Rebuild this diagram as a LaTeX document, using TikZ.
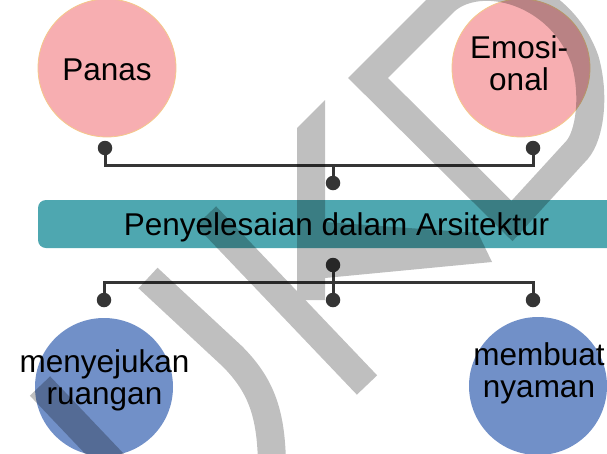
\documentclass[tikz,border=0pt]{standalone}
\usepackage{fontspec}
\setmainfont{Liberation Sans}
\definecolor{rosefill}{HTML}{F7AEB1}
\definecolor{roseline}{HTML}{F4C98A}
\definecolor{skyfill}{HTML}{7190C8}
\definecolor{tealbar}{HTML}{4EA7B0}
\definecolor{stem}{HTML}{353535}
\begin{document}
\begin{tikzpicture}[x=1pt,y=-1pt,
  ball/.style={circle,minimum size=138pt,inner sep=0pt},
  hot/.style={ball,fill=rosefill,draw=roseline,line width=0.8pt},
  cool/.style={ball,fill=skyfill},
  word/.style={font=\fontsize{31.5}{32}\selectfont,align=center,inner sep=0pt},
  stud/.style={circle,fill=stem,minimum size=14.5pt,inner sep=0pt},
  link/.style={draw=stem,line width=3pt},
  banner/.style={rounded corners=8pt,fill=tealbar,minimum width=597pt,minimum height=48pt,
    inner sep=0pt,text height=23pt,text depth=1pt,font=\fontsize{31.5}{32}\selectfont},
  inkband/.style={line width=28pt,line cap=butt,line join=miter}]
\useasboundingbox (0,0) rectangle (607,453);
% circles
\node[hot] (panas) at (107,68) {};
\node[hot] (emosi) at (521,68) {};
\node[cool] (sejuk) at (104,387) {};
\node[cool] (nyaman) at (538,386) {};
% middle bar
\node[banner] (bar) at (336.5,224) {Penyelesaian dalam Arsitektur};
% pins
\node[stud] (panas-pin) at (105,148) {};
\node[stud] (emosi-pin) at (533,148) {};
\node[stud] (bar-top) at (333,183) {};
\node[stud] (bar-bot) at (333,265) {};
\node[stud] (sejuk-pin) at (104,300) {};
\node[stud] (mid-pin) at (333,300) {};
\node[stud] (nyaman-pin) at (533,300) {};
\coordinate (upjoin) at (333,165);
\coordinate (downjoin) at (333,282);
\draw[link] (panas-pin) |- (upjoin) -| (emosi-pin);
\draw[link] (upjoin) -- (bar-top);
\draw[link] (bar-bot) -- (mid-pin);
\draw[link] (sejuk-pin) |- (downjoin) -| (nyaman-pin);
% texts
\node[word] (panas-t) at (107,69.5) {Panas};
\node[word] (emosi-t) at (519,63.5) {Emosi-\\onal};
\node[word] (sejuk-t) at (104.5,380.8) {menyejukan\\ruangan};
\node[word] (nyaman-t) at (539,373.8) {membuat\\nyaman};
% watermark
\begin{scope}[transparency group,opacity=0.25]
\clip (0,0) rectangle (607,453);
\fill (297,128) -- (325,100) -- (325,300) -- (297,300) -- cycle;
\fill (325,222) -- (478,233) -- (492,262) -- (325,278) -- cycle;
\draw[inkband] (206,216) -- (367,385);
\draw[inkband] (148,278) -- (232,356) .. controls (262,386) and (272,415) .. (272,470);
\draw[inkband] (40,386) -- (118,468);
\draw[inkband] (512,221) -- (368,78) -- (445,1) .. controls (480,-30) and (560,-10) .. (585,60)
  .. controls (595,95) and (590,135) .. (577,150) -- cycle;
\end{scope}
\end{tikzpicture}
\end{document}
